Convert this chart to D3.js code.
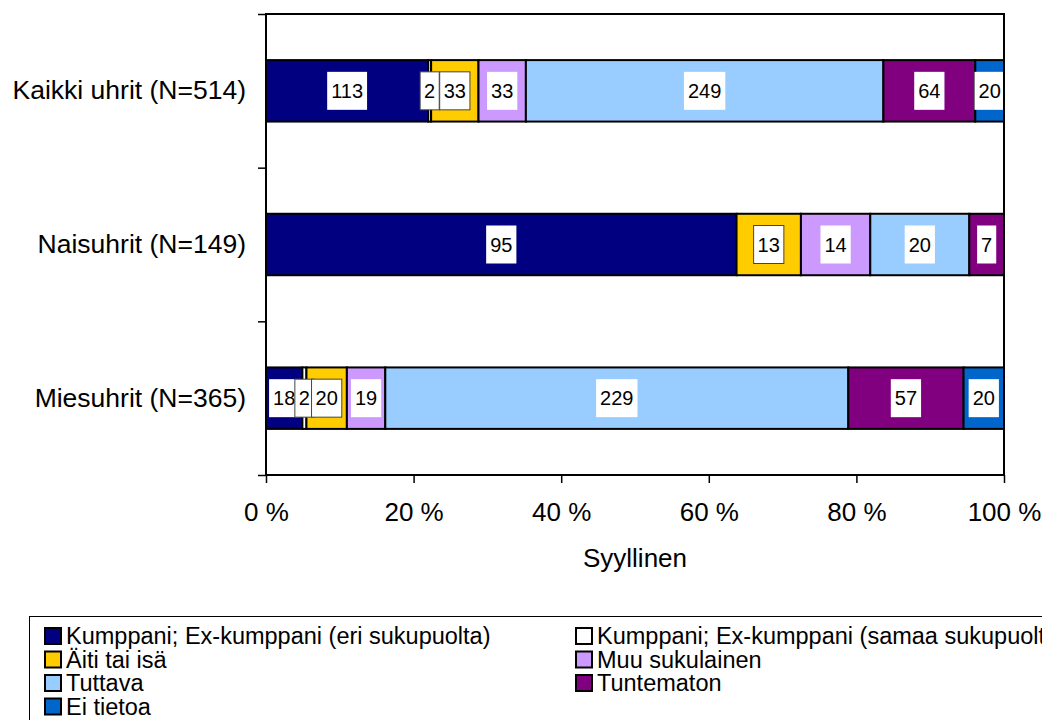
<!DOCTYPE html>
<html>
<head>
<meta charset="utf-8">
<script src="https://cdn.jsdelivr.net/npm/d3@7"></script>
<style>
  body { margin: 0; background: #fff; }
  svg { display: block; font-family: "Liberation Sans", Arial, sans-serif; }
</style>
</head>
<body>
<svg id="chart" width="1042" height="720"></svg>
<script>
// -------------------------------------------------
// Data
// -------------------------------------------------
const categories = ["Kaikki uhrit (N=514)", "Naisuhrit (N=149)", "Miesuhrit (N=365)"];

const seriesNames = [
  "Kumppani; Ex-kumppani (eri sukupuolta)",
  "Kumppani; Ex-kumppani (samaa sukupuolta)",
  "Äiti tai isä",
  "Muu sukulainen",
  "Tuttava",
  "Tuntematon",
  "Ei tietoa",
];

// one array per series, in category order
const eriSukupuolta = [113, 95, 18];
const samaaSukupuolta = [2, 0, 2];
const aitiTaiIsa = [33, 13, 20];
const muuSukulainen = [33, 14, 19];
const tuttava = [249, 20, 229];
const tuntematon = [64, 7, 57];
const eiTietoa = [20, 0, 20];

const xTicks = [0, 0.2, 0.4, 0.6, 0.8, 1];
const xTitle = "Syyllinen";

const colors = ["#000080", "#ffffff", "#ffcc00", "#cc99ff", "#99ccff", "#800080", "#0066cc"];

// -------------------------------------------------
// Build rows for the stack
// -------------------------------------------------
const seriesValues = [eriSukupuolta, samaaSukupuolta, aitiTaiIsa, muuSukulainen, tuttava, tuntematon, eiTietoa];
const rows = categories.map((c, i) => {
  const r = { cat: c };
  seriesNames.forEach((s, j) => (r[s] = seriesValues[j][i]));
  return r;
});

const stack = d3.stack().keys(seriesNames).offset(d3.stackOffsetExpand)(rows);

// -------------------------------------------------
// Scales
// -------------------------------------------------
const plot = { left: 266, right: 1004, top: 14, bottom: 475 };
const svg = d3.select("#chart");

const x = d3.scaleLinear().domain([0, 1]).range([plot.left, plot.right]);
const y = d3
  .scaleBand()
  .domain(categories)
  .range([plot.top, plot.bottom])
  .paddingInner(0.6)
  .paddingOuter(0.3);
// boundaries between categories, for the y tick marks
const yEdge = d3.scaleLinear().domain([0, categories.length]).range([plot.top, plot.bottom]);

// -------------------------------------------------
// Bars
// -------------------------------------------------
const serie = svg
  .selectAll(".serie")
  .data(stack)
  .enter()
  .append("g")
  .attr("class", "serie")
  .attr("fill", (d, i) => colors[i]);

serie
  .selectAll("rect")
  .data((d) => d.filter((p) => p[1] - p[0] > 0))
  .enter()
  .append("rect")
  .attr("x", (d) => x(d[0]))
  .attr("y", (d) => y(d.data.cat))
  .attr("width", (d) => x(d[1]) - x(d[0]))
  .attr("height", y.bandwidth())
  .attr("stroke", "#000")
  .attr("stroke-width", 2);

// -------------------------------------------------
// Data labels (white boxes)
// -------------------------------------------------
const labelG = svg.append("g");
stack.forEach((s, i) => {
  s.forEach((p) => {
    const v = p.data[s.key];
    if (!v) return;
    const cx = (x(p[0]) + x(p[1])) / 2;
    const cy = y(p.data.cat) + y.bandwidth() / 2;
    const g = labelG.append("g");
    const box = g.append("rect").attr("fill", "#fff");
    const t = g
      .append("text")
      .attr("x", cx)
      .attr("y", cy)
      .attr("dy", "0.36em")
      .attr("text-anchor", "middle")
      .style("font-size", "20px")
      .text(v);
    const w = t.node().getComputedTextLength();
    box
      .attr("x", cx - w / 2 - 4)
      .attr("y", cy - 19)
      .attr("width", w + 8)
      .attr("height", 38);
    // the boxes on the narrow segments got a thin outline
    if (i === 1 || i === 2) box.attr("stroke", "#444").attr("stroke-width", 1);
  });
});

// -------------------------------------------------
// Frame and axes
// -------------------------------------------------
svg
  .append("rect")
  .attr("x", plot.left)
  .attr("y", plot.top)
  .attr("width", plot.right - plot.left)
  .attr("height", plot.bottom - plot.top)
  .attr("fill", "none")
  .attr("stroke", "#000")
  .attr("stroke-width", 2);

const xAxisG = svg
  .append("g")
  .attr("transform", `translate(0,${plot.bottom})`)
  .call(
    d3.axisBottom(x)
      .tickValues(xTicks)
      .tickFormat((d) => Math.round(d * 100) + " %")
      .tickSize(8)
      .tickPadding(20)
  );
xAxisG.select(".domain").remove();
xAxisG.selectAll("line").attr("stroke", "#000").attr("stroke-width", 1.5);
xAxisG.selectAll("text").style("font-size", "26px").attr("fill", "#000").style("font-family", null);

const yTickG = svg
  .append("g")
  .attr("transform", `translate(${plot.left},0)`)
  .call(d3.axisLeft(yEdge).ticks(categories.length).tickSize(8).tickFormat(""));
yTickG.select(".domain").remove();
yTickG.selectAll("line").attr("stroke", "#000").attr("stroke-width", 1.5);

const yAxisG = svg
  .append("g")
  .attr("transform", `translate(${plot.left},0)`)
  .call(d3.axisLeft(y).tickSize(0).tickPadding(20));
yAxisG.select(".domain").remove();
yAxisG.selectAll("text").style("font-size", "26.5px").attr("fill", "#000").style("font-family", null);

svg
  .append("text")
  .attr("x", (plot.left + plot.right) / 2)
  .attr("y", 567)
  .attr("text-anchor", "middle")
  .style("font-size", "26px")
  .text(xTitle);

// -------------------------------------------------
// Legend (runs off the right and bottom edge)
// -------------------------------------------------
const legend = svg.append("g");
legend
  .append("rect")
  .attr("x", 29.5)
  .attr("y", 616.5)
  .attr("width", 1100)
  .attr("height", 200)
  .attr("fill", "#fff")
  .attr("stroke", "#000")
  .attr("stroke-width", 1);

const colX = [45, 576];
seriesNames.forEach((name, i) => {
  const cy = 636 + Math.floor(i / 2) * 23.5;
  const lx = colX[i % 2];
  legend
    .append("rect")
    .attr("x", lx)
    .attr("y", cy - 8)
    .attr("width", 16)
    .attr("height", 16)
    .attr("fill", colors[i])
    .attr("stroke", "#000")
    .attr("stroke-width", 2);
  legend
    .append("text")
    .attr("x", lx + 21)
    .attr("y", cy)
    .attr("dy", "0.36em")
    .style("font-size", "23.5px")
    .text(name);
});
</script>
</body>
</html>
